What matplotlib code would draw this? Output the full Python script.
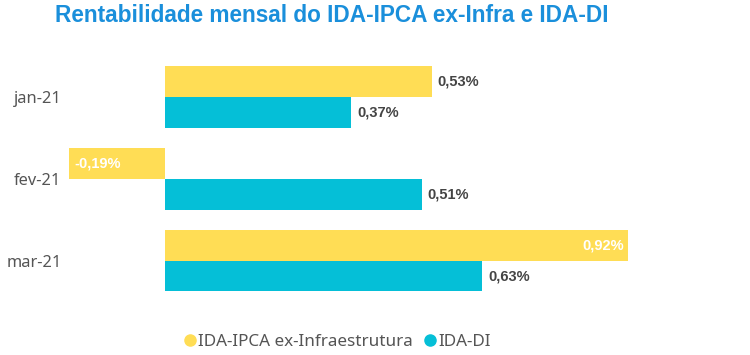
import matplotlib
matplotlib.use('Agg')
import matplotlib.pyplot as plt
from matplotlib.lines import Line2D
import numpy as np

# data
months = ['jan-21', 'fev-21', 'mar-21']
ipca_infra = [0.53, -0.19, 0.92]
ida_di = [0.37, 0.51, 0.63]
series_names = ['IDA-IPCA ex-Infraestrutura', 'IDA-DI']

YELLOW = '#FFDD55'
CYAN = '#05BFD7'
TITLE_BLUE = '#1A8FDB'
LABEL_GRAY = '#444444'
BOLD_FAMILY = ['Liberation Sans', 'DejaVu Sans']

plt.rcParams['font.family'] = ['Noto Sans', 'DejaVu Sans']

fig = plt.figure(figsize=(7.5, 3.55), dpi=100)
W, H = 750, 355
ax = fig.add_axes([65 / W, 1 - 310 / H, (700 - 65) / W, 270 / H])

y = np.arange(len(months))
h = 0.38
ax.barh(y - h / 2, ipca_infra, height=h, color=YELLOW)
ax.barh(y + h / 2, ida_di, height=h, color=CYAN)

scale = 503.8  # px per unit
ax.set_xlim(-(165 - 65) / scale, (700 - 165) / scale)
ax.set_ylim(2.607, -0.705)


def fmt(v):
    return f'{v:.2f}%'.replace('.', ',')


def add_labels(vals, offs):
    for yi, v in zip(y + offs, vals):
        if v < 0:
            kw = dict(xytext=(4, 0), ha='left', color='white')
        elif v > 0.8:
            kw = dict(xytext=(-3, 0), ha='right', color='white')
        else:
            kw = dict(xytext=(4, 0), ha='left', color=LABEL_GRAY)
        ax.annotate(fmt(v), (v, yi), textcoords='offset points', va='center',
                    fontsize=10.5, fontweight='bold', family=BOLD_FAMILY, **kw)


add_labels(ipca_infra, -h / 2)
add_labels(ida_di, h / 2)

ax.set_yticks(y)
ax.set_yticklabels(months, fontsize=11.8, color='#555555')
ax.tick_params(axis='y', length=0, pad=2.5)
ax.set_xticks([])
for s in ax.spines.values():
    s.set_visible(False)

fig.text(55 / W, 1 - 15 / H, 'Rentabilidade mensal do IDA-IPCA ex-Infra e IDA-DI',
         fontsize=16.3, fontweight='bold', family=BOLD_FAMILY, color=TITLE_BLUE,
         ha='left', va='center')

handles = [Line2D([], [], marker='o', linestyle='', color=c, markersize=8)
           for c in (YELLOW, CYAN)]
fig.legend(handles, series_names, loc='center', bbox_to_anchor=(336 / W, 1 - 342 / H),
           ncol=2, frameon=False, fontsize=12.3, labelcolor='#555555',
           handletextpad=0.0, columnspacing=0.5, handlelength=1.0)

fig.savefig('out.png', dpi=100)
